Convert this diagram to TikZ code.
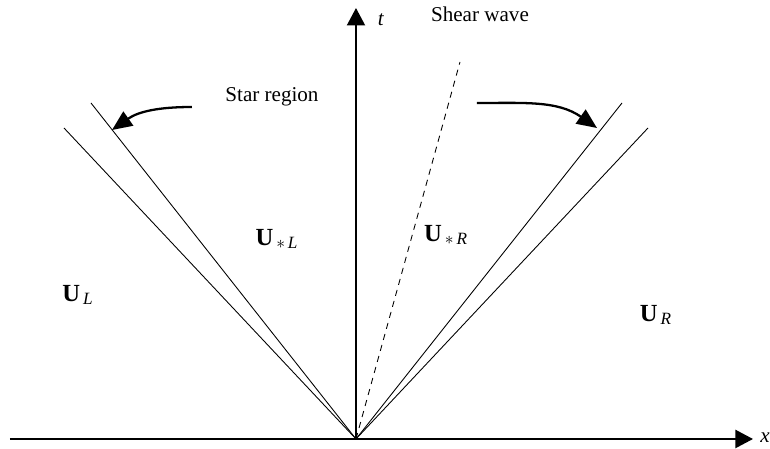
\documentclass[tikz,border=0pt]{standalone}
\usepackage{fontspec}
\setmainfont{Liberation Serif}
\usepackage{tikz}
\usetikzlibrary{arrows.meta,positioning,calc}

\begin{document}
\begin{tikzpicture}[font=\fontsize{12}{14}\selectfont,
    axis/.style={line width=1.2pt, -{Triangle[length=3.5mm, width=3.6mm]}},
    wave/.style={line width=0.5pt},
    state/.style={font=\fontsize{14}{16}\selectfont},
    pointer/.style={line width=1.3pt, -{Triangle[length=4mm, width=3.4mm]}}]
  \useasboundingbox (-7.12,-0.2) rectangle (8.28,8.78);
  % axes
  \coordinate (O) at (0,0);
  \coordinate (xl) at (-6.92,0);
  \coordinate (xr) at (7.94,0);
  \coordinate (tt) at (0,8.62);
  \draw[axis] (xl) -- (xr);
  \draw[axis] (O) -- (tt);
  \node (xlab) at (8.18,0.02) {\textit{x}};
  \node (tlab) at (0.5,8.38) {\textit{t}};
  % waves
  \coordinate (Lin) at (-5.30,6.72);
  \coordinate (Lout) at (-5.84,6.22);
  \coordinate (Rin) at (5.32,6.72);
  \coordinate (Rout) at (5.84,6.22);
  \coordinate (S) at (2.08,7.54);
  \draw[wave] (O) -- (Lin);
  \draw[wave] (O) -- (Lout);
  \draw[wave] (O) -- (Rin);
  \draw[wave] (O) -- (Rout);
  \draw[wave, dash pattern=on 3.5pt off 3pt] (O) -- (S);
  % labels
  \node (shear) at (2.48,8.5) {Shear wave};
  \node (star) at (-1.68,6.84) {Star region};
  \node[state] (UL) at (-5.56,2.88) {$\mathbf{U}_{\,\mathit{L}}$};
  \node[state] (UsL) at (-1.58,4.0) {$\mathbf{U}_{\,*\,\mathit{L}}$};
  \node[state] (UsR) at (1.80,4.08) {$\mathbf{U}_{\,*\,\mathit{R}}$};
  \node[state] (UR) at (6.0,2.48) {$\mathbf{U}_{\,\mathit{R}}$};
  % arrows to the star region
  \coordinate (la) at (-3.28,6.64);
  \coordinate (lb) at (-4.88,6.18);
  \coordinate (ra) at (2.42,6.72);
  \coordinate (rb) at (4.82,6.22);
  \draw[pointer] (la) to[out=180, in=35] (lb);
  \draw[pointer] (ra) to[out=0, in=145] (rb);
\end{tikzpicture}
\end{document}
